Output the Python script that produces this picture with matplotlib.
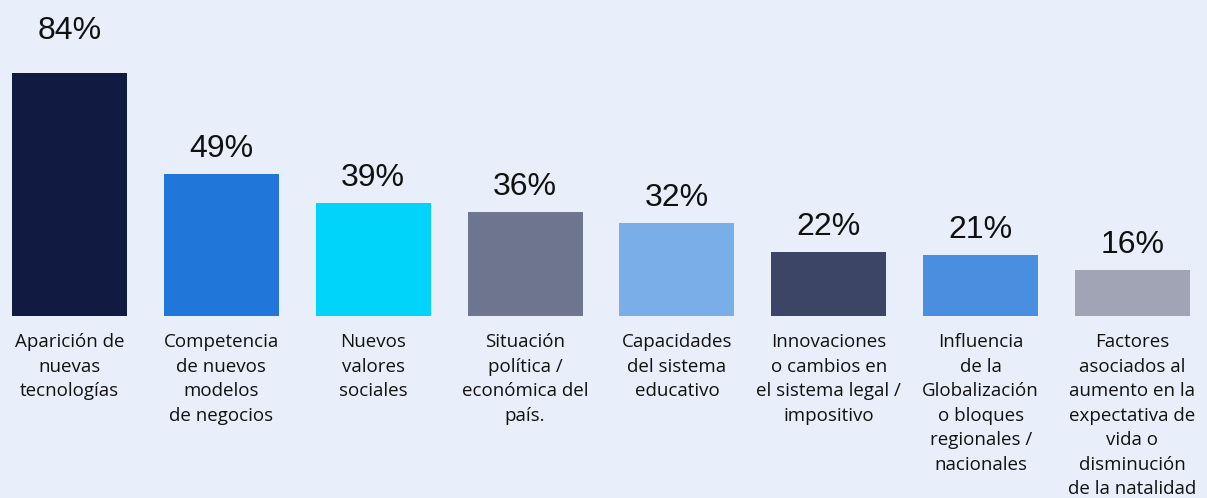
import matplotlib
matplotlib.use("Agg")
import matplotlib.pyplot as plt
import numpy as np

categories = [
    "Aparición de\nnuevas\ntecnologías",
    "Competencia\nde nuevos\nmodelos\nde negocios",
    "Nuevos\nvalores\nsociales",
    "Situación\npolítica /\neconómica del\npaís.",
    "Capacidades\ndel sistema\neducativo",
    "Innovaciones\no cambios en\nel sistema legal /\nimpositivo",
    "Influencia\nde la\nGlobalización\no bloques\nregionales /\nnacionales",
    "Factores\nasociados al\naumento en la\nexpectativa de\nvida o\ndisminución\nde la natalidad",
]
values = [84, 49, 39, 36, 32, 22, 21, 16]
colors = ["#111A40", "#2176D9", "#00D4FB", "#6E758E", "#7AAEE8", "#3D4566", "#4A8EE0", "#A0A4B5"]
bg = "#E8EFFA"

W, H = 1207, 498
fig = plt.figure(figsize=(W / 100, H / 100), dpi=100, facecolor=bg)
ax = fig.add_axes([0, 0, 1, 1])
ax.set_facecolor(bg)

x = np.arange(len(values))
unit = (1132.5 - 69.5) / 7
ax.set_xlim(-69.5 / unit, 7 + (W - 1132.5) / unit)
pxy = 2.893
base = 316
ax.set_ylim(-(H - base) / pxy, base / pxy)

ax.bar(x, values, width=115 / unit, color=colors, edgecolor="none")

for i, (xi, v) in enumerate(zip(x, values)):
    off = 27 if i == 0 else 10
    ax.annotate(f"{v}%", (xi, v), xytext=(0, off * 0.72), textcoords="offset points",
                ha="center", va="bottom", fontsize=23, family="Liberation Sans", color="#111111")
    ax.annotate(categories[i], (xi, 0), xytext=(0, -17 * 0.72), textcoords="offset points",
                ha="center", va="top", fontsize=13.5, family="Open Sans", color="#111111",
                linespacing=1.47)

ax.axis("off")
fig.savefig("out.png", dpi=100, facecolor=bg)
